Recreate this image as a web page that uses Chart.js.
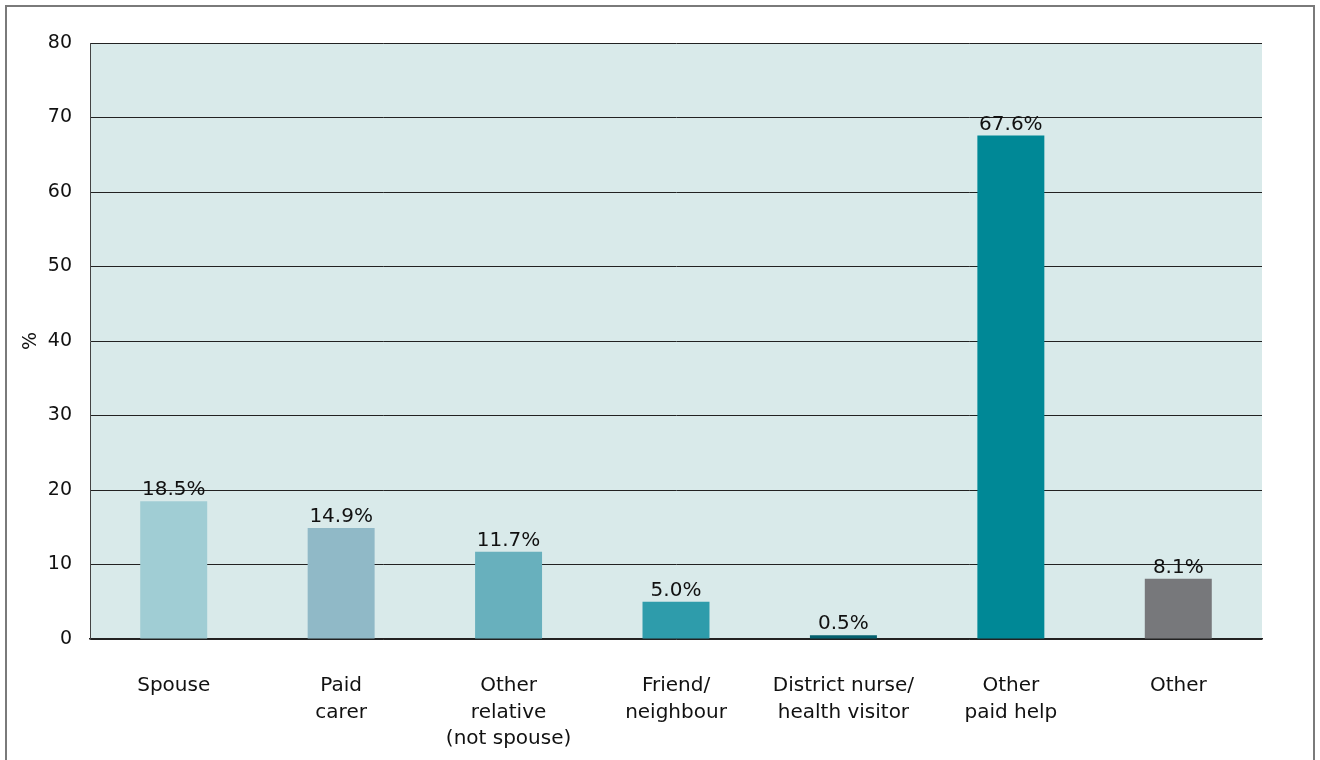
<!DOCTYPE html>
<html>
<head>
<meta charset="utf-8">
<script src="https://cdn.jsdelivr.net/npm/chart.js@4.4.1/dist/chart.umd.min.js"></script>
<style>
  html, body { margin: 0; padding: 0; background: #fff; }
  #wrap { position: relative; width: 1320px; height: 760px; }
</style>
</head>
<body>
<div id="wrap"><canvas id="chart" width="1320" height="760"></canvas></div>
<script>
// Categories (multi-line labels) and values
const categories = [
  ['Spouse'],
  ['Paid', 'carer'],
  ['Other', 'relative', '(not spouse)'],
  ['Friend/', 'neighbour'],
  ['District nurse/', 'health visitor'],
  ['Other', 'paid help'],
  ['Other']
];
const values = [18.5, 14.9, 11.7, 5.0, 0.5, 67.6, 8.1];
const barColors = ['#a0cdd4', '#90b9c7', '#68b0bd', '#2e9cab', '#04606e', '#008896', '#77787b'];
const yTicks = [0, 10, 20, 30, 40, 50, 60, 70, 80];

const FONT = '"DejaVu Sans", Verdana, sans-serif';

// plot background + outer frame
const backdrop = {
  id: 'backdrop',
  beforeDraw(chart) {
    const { ctx, chartArea: a } = chart;
    ctx.save();
    ctx.fillStyle = '#d9eaea';
    ctx.fillRect(a.left, a.top, a.right - a.left, a.bottom - a.top);
    ctx.strokeStyle = '#7a7a7a';
    ctx.lineWidth = 2;
    ctx.beginPath();
    ctx.moveTo(6, 760);
    ctx.lineTo(6, 6);
    ctx.lineTo(1314, 6);
    ctx.lineTo(1314, 760);
    ctx.stroke();
    ctx.restore();
  }
};

// value labels above each bar
const valueLabels = {
  id: 'valueLabels',
  afterDatasetsDraw(chart) {
    const { ctx } = chart;
    const meta = chart.getDatasetMeta(0);
    ctx.save();
    ctx.font = '20px ' + FONT;
    ctx.fillStyle = '#111';
    ctx.textAlign = 'center';
    ctx.textBaseline = 'bottom';
    meta.data.forEach((bar, i) => {
      ctx.fillText(values[i].toFixed(1) + '%', bar.x, bar.y - 1);
    });
    ctx.restore();
  }
};

new Chart(document.getElementById('chart').getContext('2d'), {
  type: 'bar',
  data: {
    labels: categories,
    datasets: [{
      data: values,
      backgroundColor: barColors,
      barPercentage: 0.4,
      categoryPercentage: 1.0
    }]
  },
  options: {
    responsive: false,
    animation: false,
    layout: { padding: { left: 0, right: 58, top: 43, bottom: 0 } },
    plugins: { legend: { display: false }, tooltip: { enabled: false } },
    scales: {
      x: {
        grid: { display: false, drawTicks: false },
        border: { display: true, color: '#222', width: 1.5 },
        ticks: {
          color: '#111',
          font: { size: 20, family: FONT, lineHeight: 1.32 },
          padding: 34,
          maxRotation: 0,
          autoSkip: false
        },
        afterFit(scale) { scale.height = 121; }
      },
      y: {
        min: 0,
        max: 80,
        afterBuildTicks(scale) { scale.ticks = yTicks.map(v => ({ value: v })); },
        grid: { color: '#222', lineWidth: 1, drawTicks: false },
        border: { display: true, color: '#444', width: 1 },
        ticks: {
          color: '#111',
          font: { size: 19, family: FONT },
          padding: 18
        },
        title: {
          display: true,
          text: '%',
          color: '#111',
          font: { size: 19, family: FONT },
          padding: { top: 20, bottom: 0 }
        },
        afterFit(scale) { scale.width = 90; }
      }
    }
  },
  plugins: [backdrop, valueLabels]
});
</script>
</body>
</html>
